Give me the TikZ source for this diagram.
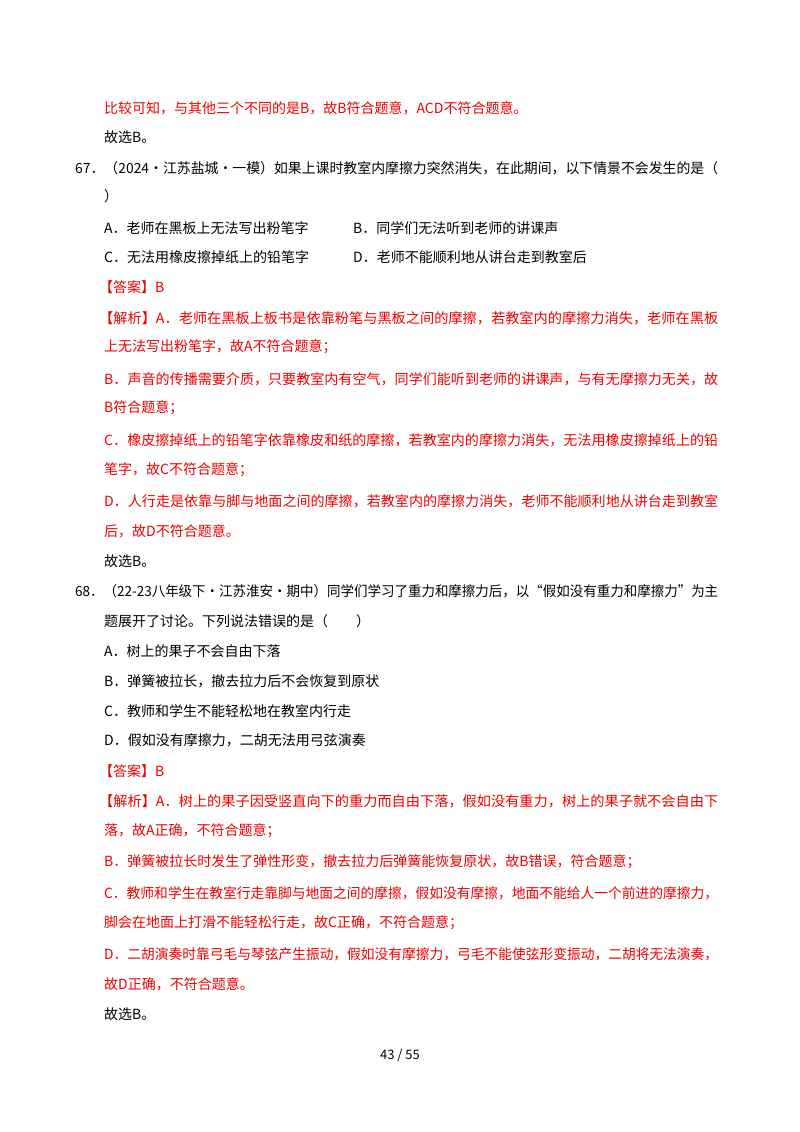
\documentclass[tikz,border=0pt]{standalone}
\usepackage{fontspec}
\setmainfont{Noto Sans CJK SC}
\definecolor{ans}{rgb}{0.93,0,0}
\newcommand{\fullline}[2]{\resizebox{#1pt}{\height}{#2}}
\begin{document}
\begin{tikzpicture}[x=1pt,y=-1pt,
  tx/.style={anchor=west,inner sep=0pt,font=\fontsize{14}{16}\selectfont},
  rd/.style={tx,text=ans}]
\useasboundingbox (0,0) rectangle (800,1132);
\node[rd] (l1) at (104,108) {比较可知，与其他三个不同的是B，故B符合题意，ACD不符合题意。};
\node[tx] (l2) at (104,137) {故选B。};
\node[tx] (l3) at (75,168) {\fullline{643}{67．（2024·江苏盐城·一模）如果上课时教室内摩擦力突然消失，在此期间，以下情景不会发生的是（}};
\node[tx] (l4) at (104,196) {）};
\node[tx] (l5a) at (104,228) {A．老师在黑板上无法写出粉笔字};
\node[tx] (l5b) at (353,228) {B．同学们无法听到老师的讲课声};
\node[tx] (l6a) at (104,257) {C．无法用橡皮擦掉纸上的铅笔字};
\node[tx] (l6b) at (353,257) {D．老师不能顺利地从讲台走到教室后};
\node[rd] (l7) at (99,287) {【答案】B};
\node[rd] (l8) at (99,318) {\fullline{619}{【解析】A．老师在黑板上板书是依靠粉笔与黑板之间的摩擦，若教室内的摩擦力消失，老师在黑板}};
\node[rd] (l9) at (104,347) {上无法写出粉笔字，故A不符合题意；};
\node[rd] (l10) at (104,379) {\fullline{614}{B．声音的传播需要介质，只要教室内有空气，同学们能听到老师的讲课声，与有无摩擦力无关，故}};
\node[rd] (l11) at (104,408) {B符合题意；};
\node[rd] (l12) at (104,440) {\fullline{614}{C．橡皮擦掉纸上的铅笔字依靠橡皮和纸的摩擦，若教室内的摩擦力消失，无法用橡皮擦掉纸上的铅}};
\node[rd] (l13) at (104,470) {笔字，故C不符合题意；};
\node[rd] (l14) at (104,501) {\fullline{614}{D．人行走是依靠与脚与地面之间的摩擦，若教室内的摩擦力消失，老师不能顺利地从讲台走到教室}};
\node[rd] (l15) at (104,531) {后，故D不符合题意。};
\node[tx] (l16) at (104,561) {故选B。};
\node[tx] (l17) at (75,591) {\fullline{643}{68．（22-23八年级下·江苏淮安·期中）同学们学习了重力和摩擦力后，以“假如没有重力和摩擦力”为主}};
\node[tx] (l18) at (104,621) {题展开了讨论。下列说法错误的是（\quad\quad）};
\node[tx] (l19) at (104,651) {A．树上的果子不会自由下落};
\node[tx] (l20) at (104,681) {B．弹簧被拉长，撤去拉力后不会恢复到原状};
\node[tx] (l21) at (104,711) {C．教师和学生不能轻松地在教室内行走};
\node[tx] (l22) at (104,740) {D．假如没有摩擦力，二胡无法用弓弦演奏};
\node[rd] (l23) at (99,771) {【答案】B};
\node[rd] (l24) at (99,801) {\fullline{619}{【解析】A．树上的果子因受竖直向下的重力而自由下落，假如没有重力，树上的果子就不会自由下}};
\node[rd] (l25) at (104,831) {落，故A正确，不符合题意；};
\node[rd] (l26) at (104,862) {B．弹簧被拉长时发生了弹性形变，撤去拉力后弹簧能恢复原状，故B错误，符合题意；};
\node[rd] (l27) at (104,893) {\fullline{614}{C．教师和学生在教室行走靠脚与地面之间的摩擦，假如没有摩擦，地面不能给人一个前进的摩擦力，}};
\node[rd] (l28) at (104,923) {脚会在地面上打滑不能轻松行走，故C正确，不符合题意；};
\node[rd] (l29) at (104,954) {\fullline{614}{D．二胡演奏时靠弓毛与琴弦产生振动，假如没有摩擦力，弓毛不能使弦形变振动，二胡将无法演奏，}};
\node[rd] (l30) at (104,984) {故D正确，不符合题意。};
\node[tx] (l31) at (104,1014) {故选B。};
\node[inner sep=0pt,font=\fontsize{13}{15}\selectfont] (pg) at (400,1055) {43 / 55};
\end{tikzpicture}
\end{document}
